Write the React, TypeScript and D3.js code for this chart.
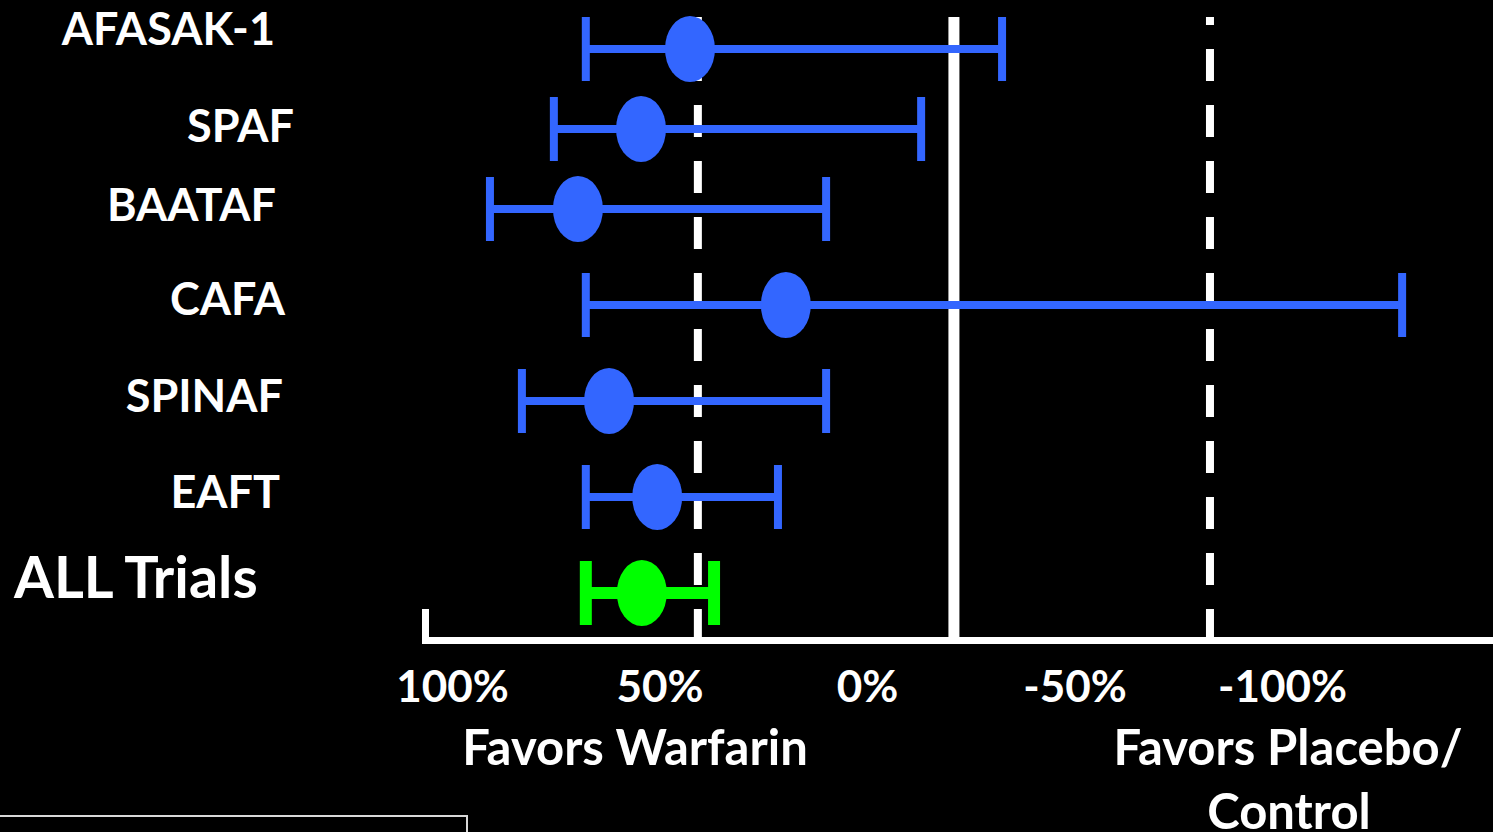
import React from "react";
import * as d3 from "d3";

// ---- data (percent relative risk reduction) ----
const trials = ["AFASAK-1", "SPAF", "BAATAF", "CAFA", "SPINAF", "EAFT", "ALL Trials"];
const pointEstimates = [42.8, 54.6, 69.8, 19.7, 62.3, 50.7, 54.4];
const lowerCI = [-32.4, -12.9, 10.0, -128.8, 10.0, 21.6, 37.0];
const upperCI = [67.9, 75.6, 91.0, 67.9, 83.3, 67.9, 67.9];
const tickValues = [100, 50, 0, -50, -100];
const tickLabels = ["100%", "50%", "0%", "-50%", "-100%"];
const solidRefValue = -20.8;
const dashedRefValues = [40.9, -82.5];

// ---- layout ----
const W = 1493;
const H = 832;
const rowCenters = [49, 129, 209, 305, 401, 497, 593];
const labelRight = [275, 294, 276, 285, 283, 280];
const labelBaselineOffset = [-4, 13, 12, 10, 11, 11];
const FONT = "Lato, 'Open Sans', sans-serif";
const BLUE = "#3366FF";
const GREEN = "#00FF00";

export default function App() {
  const x = d3.scaleLinear().domain([100, -100]).range([452.6, 1282.6]);
  const y = d3.scaleOrdinal<string, number>().domain(trials).range(rowCenters);
  const axisY = 640.5;
  const topY = 17;

  return (
    <div style={{ position: "fixed", left: 0, top: 0, width: W, height: H, background: "#000" }}>
      <svg width={W} height={H} style={{ display: "block", background: "#000" }}>
        {/* reference lines */}
        <line x1={x(solidRefValue)} x2={x(solidRefValue)} y1={topY} y2={axisY + 3.5} stroke="#fff" strokeWidth={11} />
        {dashedRefValues.map((v, i) => (
          <line key={i} x1={x(v)} x2={x(v)} y1={topY} y2={axisY} stroke="#fff" strokeWidth={8}
            strokeDasharray="32 24" strokeDashoffset={24} />
        ))}
        {/* axis */}
        <line x1={426} x2={W} y1={axisY} y2={axisY} stroke="#fff" strokeWidth={7} />
        <line x1={425.5} x2={425.5} y1={609} y2={axisY + 3.5} stroke="#fff" strokeWidth={7} />
        {tickValues.map((v, i) => (
          <text key={v} x={x(v)} y={702} fill="#fff" fontFamily={FONT} fontWeight={700} fontSize={44}
            textAnchor="middle">{tickLabels[i]}</text>
        ))}
        <text x={635} y={765} fill="#fff" fontFamily={FONT} fontWeight={700} fontSize={49} textAnchor="middle">Favors Warfarin</text>
        <text x={1288} y={765} fill="#fff" fontFamily={FONT} fontWeight={700} fontSize={49} textAnchor="middle">Favors Placebo/</text>
        <text x={1289} y={829} fill="#fff" fontFamily={FONT} fontWeight={700} fontSize={49} textAnchor="middle">Control</text>

        {/* forest rows */}
        {trials.map((t, i) => {
          const isAll = i === trials.length - 1;
          const c = isAll ? GREEN : BLUE;
          const sw = isAll ? 12 : 8;
          const cy = y(t) as number;
          const xl = x(upperCI[i]);
          const xr = x(lowerCI[i]);
          return (
            <g key={t}>
              <line x1={xl} x2={xr} y1={cy} y2={cy} stroke={c} strokeWidth={sw} />
              <line x1={xl} x2={xl} y1={cy - 32} y2={cy + 32} stroke={c} strokeWidth={sw} />
              <line x1={xr} x2={xr} y1={cy - 32} y2={cy + 32} stroke={c} strokeWidth={sw} />
              <ellipse cx={x(pointEstimates[i])} cy={cy} rx={25} ry={33} fill={c} />
              {isAll ? (
                <text x={14} y={cy + 5} fill="#fff" fontFamily={FONT} fontWeight={700} fontSize={57.5}>{t}</text>
              ) : (
                <text x={labelRight[i]} y={cy + labelBaselineOffset[i]} fill="#fff" fontFamily={FONT}
                  fontWeight={700} fontSize={45} textAnchor="end">{t}</text>
              )}
            </g>
          );
        })}

        {/* bottom-left box edge */}
        <rect x={-5} y={816} width={472} height={40} fill="none" stroke="#d8d8d8" strokeWidth={2} />
      </svg>
    </div>
  );
}
